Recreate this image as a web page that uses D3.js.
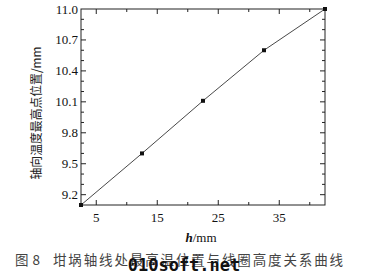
<!DOCTYPE html>
<html>
<head>
<meta charset="utf-8">
<script src="https://cdn.jsdelivr.net/npm/d3@7"></script>
<style>
  body { margin: 0; background: #fff; }
  svg text { font-family: "Liberation Serif", serif; }
</style>
</head>
<body>
<svg id="chart" width="367" height="280"></svg>
<script>
// coil height h (mm) vs axial position of max temperature (mm)
const hValues = [2.5, 12.5, 22.5, 32.5, 42.5];
const posValues = [9.1, 9.6, 10.11, 10.6, 11.0];
const xTickLabels = [5, 15, 25, 35];
const yTickLabels = [9.2, 9.5, 9.8, 10.1, 10.4, 10.7, 11.0];

const svg = d3.select("#chart");
const margin = { left: 81, right: 42, top: 9, bottom: 75 };
const width = 367, height = 280;

let x = d3.scaleLinear().domain([2.5, 42.5]).range([margin.left, width - margin.right]);
let y = d3.scaleLinear().domain([9.1, 11.0]).range([height - margin.bottom, margin.top]);

// frame
svg.append("rect")
    .attr("x", margin.left).attr("y", margin.top)
    .attr("width", x.range()[1] - margin.left)
    .attr("height", y.range()[0] - margin.top)
    .attr("fill", "none").attr("stroke", "#222").attr("stroke-width", 1);

// ticks, inward on all four sides
let xMinor = d3.range(5, 42.5, 5);
let yMinor = d3.range(92, 110, 1).map(d => d / 10);
let tickG = svg.append("g").attr("stroke", "#222").attr("stroke-width", 1);
xMinor.forEach(v => {
    let len = xTickLabels.includes(v) ? 5 : 3;
    tickG.append("line").attr("x1", x(v)).attr("x2", x(v))
        .attr("y1", y(9.1)).attr("y2", y(9.1) - len);
    tickG.append("line").attr("x1", x(v)).attr("x2", x(v))
        .attr("y1", y(11)).attr("y2", y(11) + len);
});
yMinor.forEach(v => {
    let len = yTickLabels.some(t => Math.abs(t - v) < 1e-6) ? 5 : 3;
    tickG.append("line").attr("y1", y(v)).attr("y2", y(v))
        .attr("x1", x(2.5)).attr("x2", x(2.5) + len);
    tickG.append("line").attr("y1", y(v)).attr("y2", y(v))
        .attr("x1", x(42.5)).attr("x2", x(42.5) - len);
});

// tick labels
svg.append("g").selectAll("text").data(xTickLabels).enter().append("text")
    .attr("x", d => x(d)).attr("y", y(9.1) + 17)
    .attr("text-anchor", "middle").attr("font-size", 13).attr("fill", "#111")
    .text(d => d);
svg.append("g").selectAll("text").data(yTickLabels).enter().append("text")
    .attr("x", x(2.5) - 3).attr("y", d => y(d) + 4.5)
    .attr("text-anchor", "end").attr("font-size", 13).attr("fill", "#111")
    .text(d => d.toFixed(1));

// line + markers
let pts = hValues.map((h, i) => ({ h: h, p: posValues[i] }));
let line = d3.line().x(d => x(d.h)).y(d => y(d.p));
svg.append("path").attr("d", line(pts))
    .attr("fill", "none").attr("stroke", "#333").attr("stroke-width", 0.9);
svg.selectAll(".dot").data(pts).enter().append("rect")
    .attr("class", "dot")
    .attr("x", d => x(d.h) - 2).attr("y", d => y(d.p) - 2)
    .attr("width", 4).attr("height", 4).attr("fill", "#111");

// axis titles
let xt = svg.append("text").attr("x", 201).attr("y", 242)
    .attr("text-anchor", "middle").attr("font-size", 13).attr("fill", "#111");
xt.append("tspan").attr("font-style", "italic").attr("font-weight", "bold").text("h");
xt.append("tspan").text("/mm");

svg.append("text")
    .attr("transform", "translate(41,113) rotate(-90)")
    .attr("text-anchor", "middle").attr("font-size", 12.5).attr("fill", "#222")
    .attr("textLength", 133).attr("lengthAdjust", "spacingAndGlyphs")
    .style("font-family", "'Noto Sans CJK SC', sans-serif")
    .text("轴向温度最高点位置/mm");

// caption + watermark
let fig = svg.append("text").attr("x", 15).attr("y", 265)
    .attr("font-size", 13.5).attr("fill", "#444")
    .style("font-family", "'Noto Sans CJK SC', sans-serif");
fig.append("tspan").text("图");
fig.append("tspan").attr("dx", 4).text("8");
svg.append("text").attr("x", 53).attr("y", 265)
    .attr("font-size", 13.5).attr("fill", "#444")
    .attr("textLength", 290).attr("lengthAdjust", "spacing")
    .style("font-family", "'Noto Sans CJK SC', sans-serif")
    .text("坩埚轴线处最高温位置与线圈高度关系曲线");
svg.append("text").attr("x", 184).attr("y", 271)
    .attr("text-anchor", "middle").attr("font-size", 17).attr("font-weight", "bold")
    .attr("fill", "#111")
    .style("font-family", "'DejaVu Sans Mono', monospace")
    .text("010soft.net");
</script>
</body>
</html>
